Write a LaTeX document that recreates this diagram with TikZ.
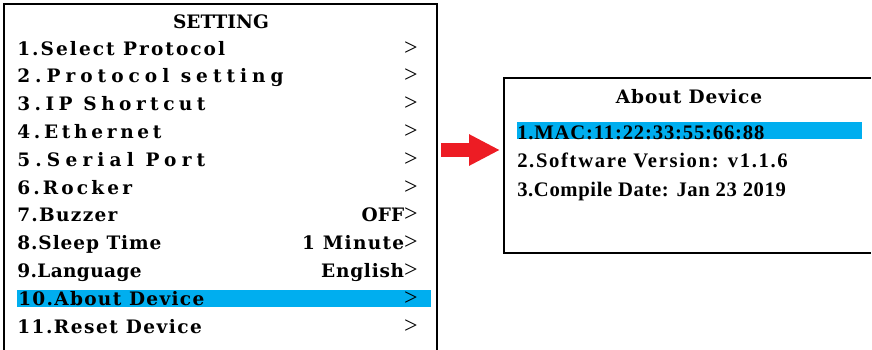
\documentclass[tikz,border=0pt]{standalone}
\usepackage{fontspec}
\setmainfont{Liberation Serif}
\newfontfamily\menufont{DejaVu Serif}
\usetikzlibrary{arrows.meta}

\definecolor{selcyan}{RGB}{0,174,239}
\definecolor{arrowred}{RGB}{237,28,36}

\newcommand{\ls}[2]{{\addfontfeature{LetterSpace=#1}#2}}
\newcommand{\chev}{{\rmfamily\mdseries\fontsize{18}{18}\selectfont >}}

\tikzset{
	screen/.style={draw=black, line width=1.5pt},
	item/.style={font=\menufont\fontsize{13.9}{16}\selectfont\bfseries, inner sep=0pt, anchor=base west},
	value/.style={item, anchor=base east},
	headline/.style={item, anchor=base},
	info/.style={item, font=\rmfamily\fontsize{15.5}{18}\selectfont\bfseries},
	selbar/.style={fill=selcyan, draw=none},
	goto/.style={draw=arrowred, line width=10.5pt, -{Triangle[length=23.25pt,width=22pt]}}
}

\begin{document}
\begin{tikzpicture}[x=0.75pt,y=0.75pt,yscale=-1,xscale=1]
	\useasboundingbox (0,0) rectangle (872,350);

	%Shape: Rectangle [id:setting screen] 
	\draw [screen] (4,352) -- (4,4) -- (437,4) -- (437,352) ;
	%Shape: Rectangle [id:about screen] 
	\draw [screen] (871,78) -- (504,78) -- (504,253) -- (871,253) ;

	%Shape: Rectangle [id:selected rows] 
	\fill [selbar] (17,290) rectangle (431,307) ;
	\fill [selbar] (517,122) rectangle (862,139) ;

	% Text Node
	\node [headline] (setting) at (221,28) {SETTING};
	% Text Node
	\node [item] (s1) at (17,55) {\ls{11}{1.Select Protocol}};
	\node [value] (s1v) at (418,55) {\chev};
	% Text Node
	\node [item] (s2) at (17,82.8) {\ls{27}{2.Protocol setting}};
	\node [value] (s2v) at (418,82.8) {\chev};
	% Text Node
	\node [item] (s3) at (17,110.6) {\ls{24}{3.IP Shortcut}};
	\node [value] (s3v) at (418,110.6) {\chev};
	% Text Node
	\node [item] (s4) at (17,138.4) {\ls{20}{4.Ethernet}};
	\node [value] (s4v) at (418,138.4) {\chev};
	% Text Node
	\node [item] (s5) at (17,166.2) {\ls{28}{5.Serial Port}};
	\node [value] (s5v) at (418,166.2) {\chev};
	% Text Node
	\node [item] (s6) at (17,194) {\ls{17}{6.Rocker}};
	\node [value] (s6v) at (418,194) {\chev};
	% Text Node
	\node [item] (s7) at (17,221.8) {\ls{7}{7.Buzzer}};
	\node [value] (s7v) at (418,221.8) {OFF\chev};
	% Text Node
	\node [item] (s8) at (17,249.6) {\ls{5}{8.Sleep Time}};
	\node [value] (s8v) at (418,249.6) {\ls{7}{1 Minute}\chev};
	% Text Node
	\node [item] (s9) at (17,277.4) {\ls{2}{9.Language}};
	\node [value] (s9v) at (418,277.4) {\ls{4}{English}\chev};
	% Text Node
	\node [item] (s10) at (18,305.2) {\ls{7}{10.About Device}};
	\node [value] (s10v) at (418,305.2) {\chev};
	% Text Node
	\node [item] (s11) at (17,333) {\ls{8}{11.Reset Device}};
	\node [value] (s11v) at (418,333) {\chev};

	% Text Node
	\node [headline] (about) at (689,103) {\ls{5}{About Device}};
	% Text Node
	\node [info] (a1) at (517,139) {\ls{4}{1.MAC:11:22:33:55:66:88}};
	% Text Node
	\node [info] (a2) at (517,167) {\ls{8}{2.Software Version: v1.1.6}};
	% Text Node
	\node [info] (a3) at (517,196) {\ls{3}{3.Compile Date: Jan 23 2019}};

	%Shape: Arrow 
	\coordinate (from) at (441,150) ;
	\coordinate (to) at (500,150) ;
	\draw [goto] (from) -- (to) ;

\end{tikzpicture}
\end{document}
